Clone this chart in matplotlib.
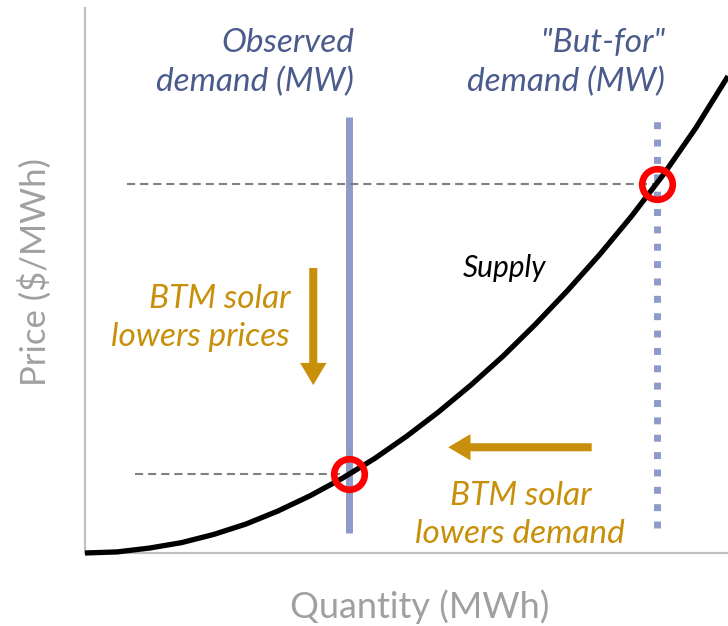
import matplotlib
matplotlib.use("Agg")
import matplotlib.pyplot as plt

plt.rcParams['font.family'] = ['Lato', 'DejaVu Sans']

# Supply curve (quantity and price on a 0-100 scale)
quantity = [0, 5, 10, 15, 20, 25, 30, 35, 40, 45, 50, 55, 60, 65, 70, 75, 80, 85, 90, 95, 100]
price = [0, 0.2, 0.9, 1.9, 3.4, 5.3, 7.7, 10.5, 13.7, 17.3, 21.4, 25.9, 30.8, 36.1, 41.9,
         48.1, 54.7, 61.8, 69.5, 78.0, 87.5]

# Demand levels and the matching equilibrium prices
observed_q = 41.0
butfor_q = 89.0
observed_p = 14.5
butfor_p = 67.7

blue_line = "#8e9bc9"
blue_text = "#4b5b8c"
gold = "#c8900a"
gray_text = "#a0a0a0"

fig = plt.figure(figsize=(7.28, 6.26), dpi=100)
ax = fig.add_axes([85 / 728, 73 / 626, 643 / 728, 545 / 626])
ax.set_xlim(0, 100)
ax.set_ylim(0, 100)
ax.set_xticks([])
ax.set_yticks([])
for side in ["top", "right"]:
    ax.spines[side].set_visible(False)
for side in ["left", "bottom"]:
    ax.spines[side].set_color("#c0c0c0")
    ax.spines[side].set_linewidth(1.6)

# demand lines
ax.plot([observed_q, observed_q], [3.7, 80.0], color=blue_line, lw=5, solid_capstyle="butt")
ax.plot([butfor_q, butfor_q], [4.6, 79.8], color=blue_line, lw=5,
        linestyle=(0, (1, 1.5)), dash_capstyle="butt")

# price guides
ax.plot([6.5, butfor_q], [butfor_p, butfor_p], color="#808080", lw=1.5, linestyle=(0, (3.9, 2.4)))
ax.plot([7.8, observed_q], [observed_p, observed_p], color="#808080", lw=1.5, linestyle=(0, (3.9, 2.4)))

# supply curve
ax.plot(quantity, price, color="black", lw=3.8, solid_capstyle="butt", clip_on=False, zorder=4)

# equilibrium markers
ax.plot([observed_q, butfor_q], [observed_p, butfor_p], "o", ms=22, mfc="none",
        mec="red", mew=4.8, zorder=5)

# labels
txt = dict(fontsize=24, style="italic", linespacing=1.36)
ax.text(41.8, 90.0, "Observed\ndemand (MW)", ha="right", va="center", color=blue_text, **txt)
ax.text(90.2, 90.0, "\"But-for\"\ndemand (MW)", ha="right", va="center", color=blue_text, **txt)
ax.text(65.3, 52.3, "Supply", ha="center", va="center", fontsize=21.5, style="italic", color="black")
ax.text(31.9, 43.1, "BTM solar\nlowers prices", ha="right", va="center", color=gold, **txt)
ax.text(67.7, 7.0, "BTM solar\nlowers demand", ha="center", va="center", color=gold, **txt)

arrow = dict(arrowstyle="simple,head_width=1.9,head_length=1.6,tail_width=0.58",
             color=gold, mutation_scale=10, shrinkA=0, shrinkB=0, lw=0)
ax.annotate("", xy=(35.5, 30.8), xytext=(35.5, 52.3), arrowprops=arrow)
ax.annotate("", xy=(56.5, 19.4), xytext=(78.8, 19.4), arrowprops=arrow)

ax.text(-0.0785, 0.516, "Price ($/MWh)", transform=ax.transAxes, rotation=90, ha="center",
        va="center", fontsize=25, color=gray_text)
ax.text(0.52, -0.099, "Quantity (MWh)", transform=ax.transAxes, ha="center",
        va="center", fontsize=26, color=gray_text)

fig.savefig("out.png", dpi=100)
